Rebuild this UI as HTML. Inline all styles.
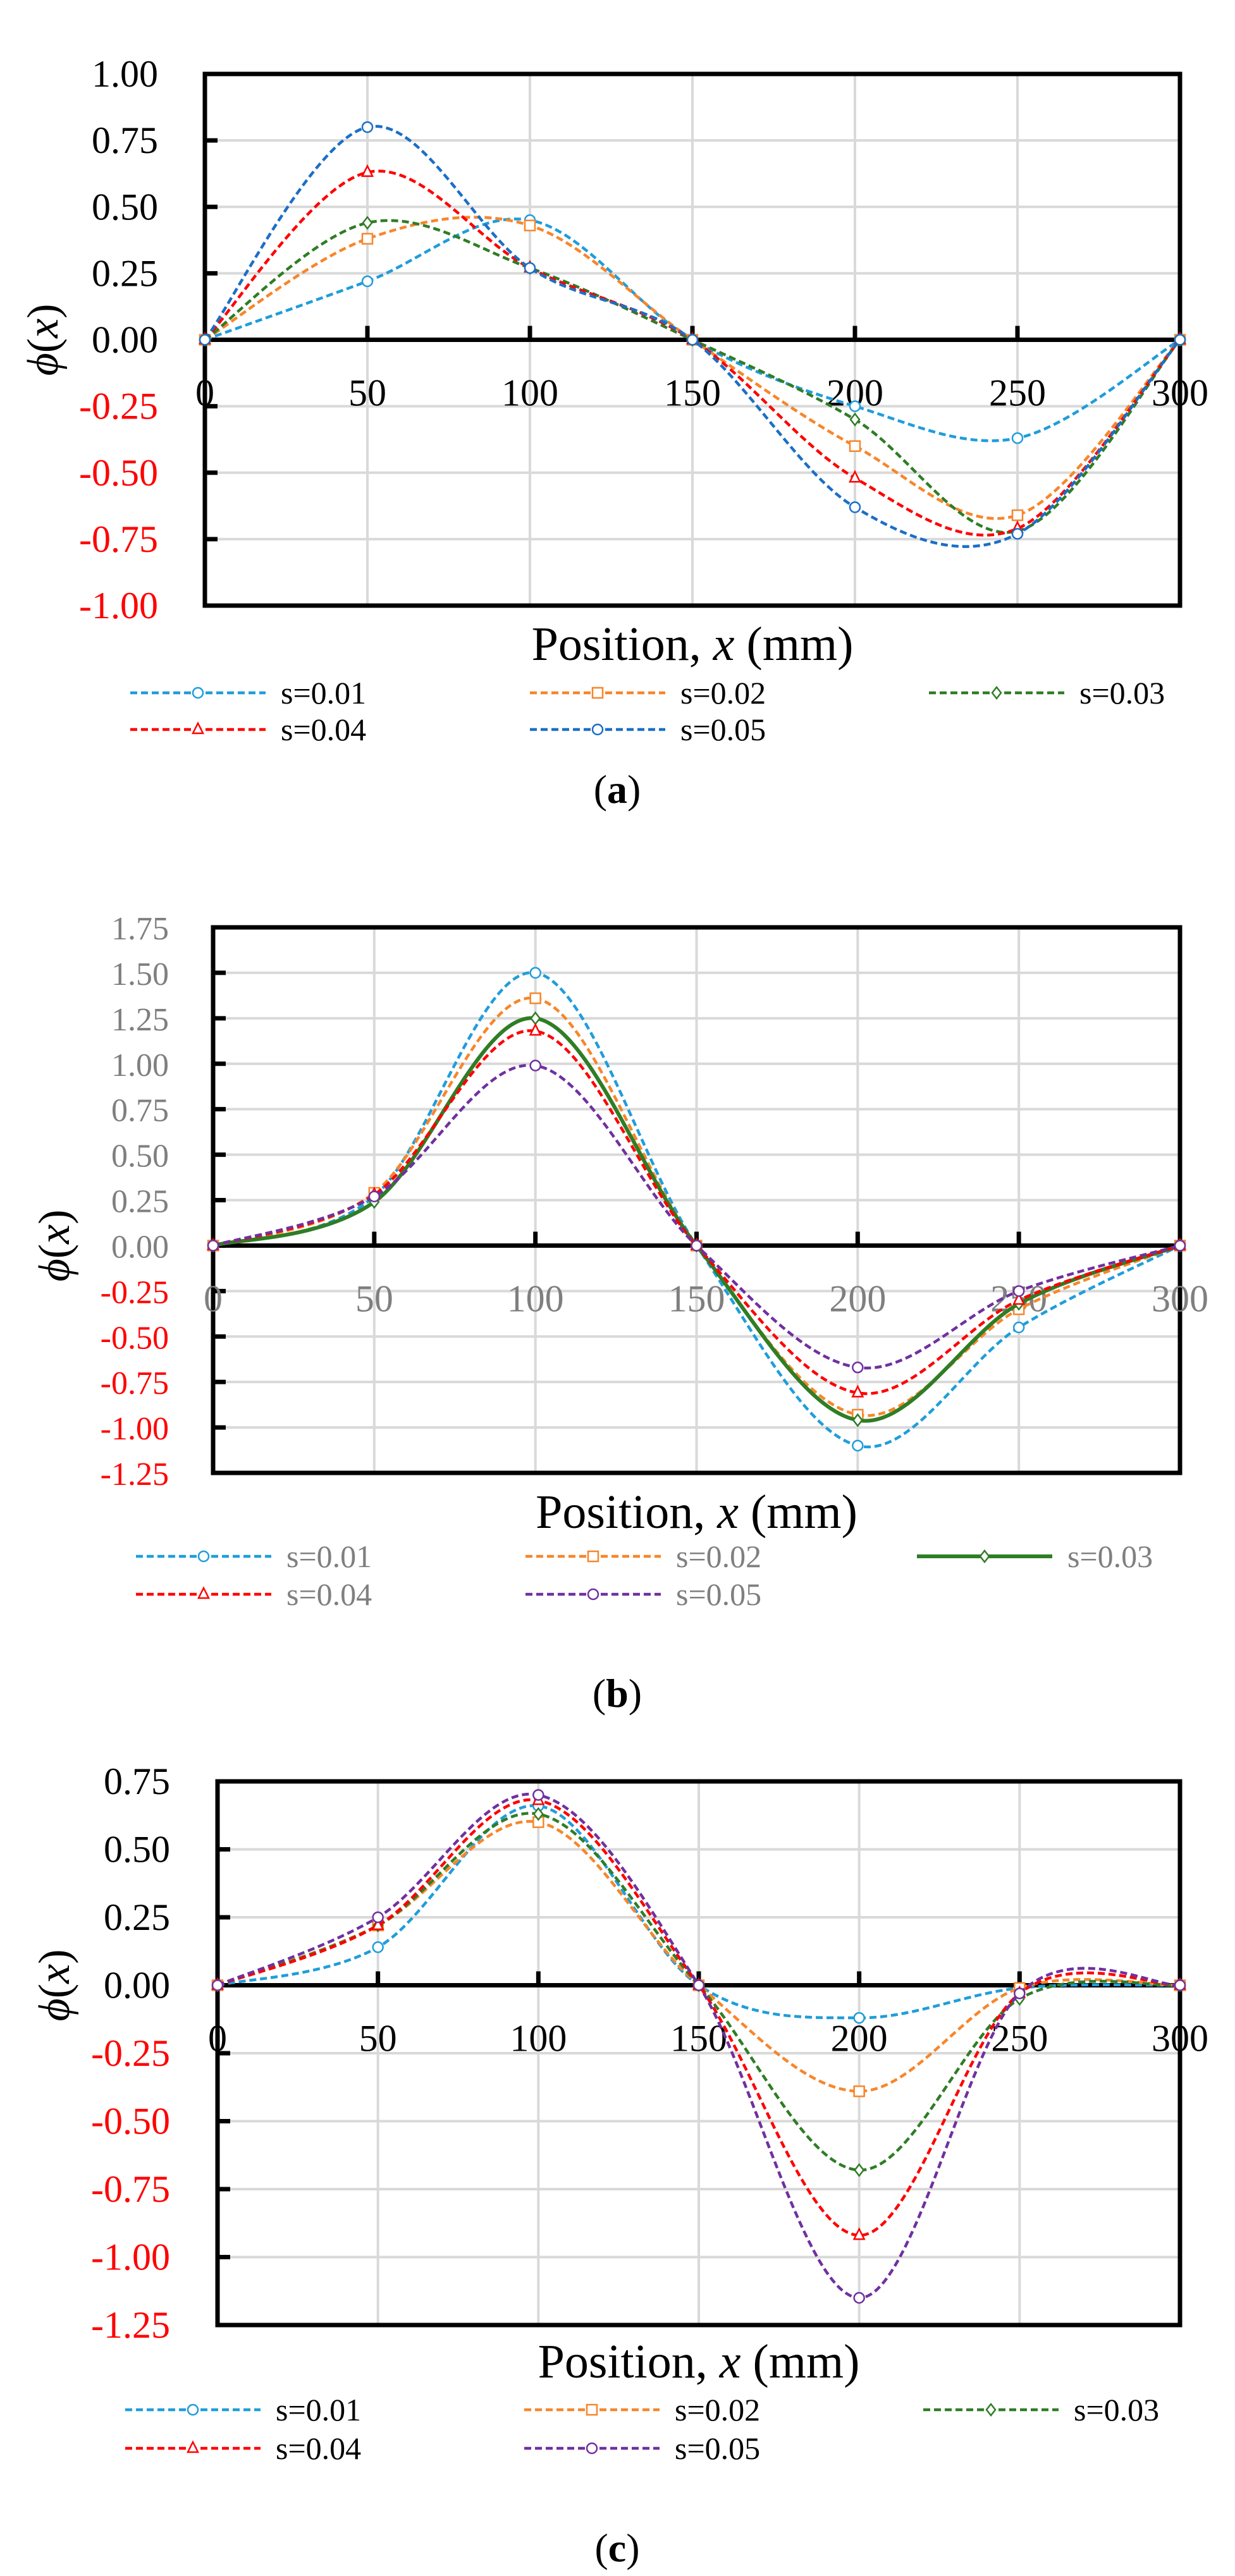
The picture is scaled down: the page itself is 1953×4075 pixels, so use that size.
<!DOCTYPE html>
<html><head><meta charset="utf-8"><style>
html,body{margin:0;padding:0;background:#fff;}
svg{display:block;}
text{font-family:"Liberation Serif",serif;}
</style></head><body>
<svg id="fig" width="1953" height="4075" viewBox="0 0 1953 4075" xmlns="http://www.w3.org/2000/svg"></svg>
<script>
const xCats = [0, 50, 100, 150, 200, 250, 300];
const xTicks = ["0","50","100","150","200","250","300"];
const seriesNames = ["s=0.01","s=0.02","s=0.03","s=0.04","s=0.05"];
// chart (a)
const a_s01 = [0, 0.22, 0.45, 0, -0.25, -0.37, 0];
const a_s02 = [0, 0.38, 0.43, 0, -0.40, -0.66, 0];
const a_s03 = [0, 0.44, 0.27, 0, -0.30, -0.72, 0];
const a_s04 = [0, 0.63, 0.27, 0, -0.52, -0.71, 0];
const a_s05 = [0, 0.80, 0.27, 0, -0.63, -0.73, 0];
const a_yTicks = ["1.00","0.75","0.50","0.25","0.00","-0.25","-0.50","-0.75","-1.00"];
// chart (b)
const b_s01 = [0, 0.27, 1.50, 0, -1.10, -0.45, 0];
const b_s02 = [0, 0.29, 1.36, 0, -0.93, -0.35, 0];
const b_s03 = [0, 0.24, 1.25, 0, -0.96, -0.32, 0];
const b_s04 = [0, 0.28, 1.18, 0, -0.81, -0.30, 0];
const b_s05 = [0, 0.27, 0.99, 0, -0.67, -0.25, 0];
const b_yTicks = ["1.75","1.50","1.25","1.00","0.75","0.50","0.25","0.00","-0.25","-0.50","-0.75","-1.00","-1.25"];
// chart (c)
const c_s01 = [0, 0.14, 0.66, 0, -0.12, -0.01, 0];
const c_s02 = [0, 0.22, 0.60, 0, -0.39, -0.01, 0];
const c_s03 = [0, 0.22, 0.63, 0, -0.68, -0.05, 0];
const c_s04 = [0, 0.22, 0.68, 0, -0.92, -0.03, 0];
const c_s05 = [0, 0.25, 0.70, 0, -1.15, -0.03, 0];
const c_yTicks = ["0.75","0.50","0.25","0.00","-0.25","-0.50","-0.75","-1.00","-1.25"];

const NS = "http://www.w3.org/2000/svg";
const svg = document.getElementById("fig");
function el(tag, attrs, parent){
  const e = document.createElementNS(NS, tag);
  for (const k in attrs) e.setAttribute(k, attrs[k]);
  (parent||svg).appendChild(e);
  return e;
}
const BLUE="#1f9ddb", ORANGE="#f7862a", GREEN="#2f7d25", RED="#ff0000", DBLUE="#1b6fc6", PURPLE="#7030a0";

function markerShape(g, kind, x, y, color){
  let m;
  if (kind==="circle") m = el("circle",{cx:x,cy:y,r:8,fill:"#fff",stroke:color,"stroke-width":2.5},g);
  else if (kind==="square") m = el("rect",{x:x-8,y:y-8,width:16,height:16,fill:"#fff",stroke:color,"stroke-width":2.5},g);
  else if (kind==="diamond") m = el("polygon",{points:`${x},${y-9} ${x+7},${y} ${x},${y+9} ${x-7},${y}`,fill:"#fff",stroke:color,"stroke-width":2.5},g);
  else m = el("polygon",{points:`${x},${y-10} ${x+8},${y+6} ${x-8},${y+6}`,fill:"#fff",stroke:color,"stroke-width":2.5},g);
  
  
  return m;
}

function smoothPath(pts){
  let d = `M${pts[0][0]},${pts[0][1]}`;
  for (let i=0;i<pts.length-1;i++){
    const p0 = pts[Math.max(0,i-1)], p1 = pts[i], p2 = pts[i+1], p3 = pts[Math.min(pts.length-1,i+2)];
    const c1x = p1[0]+(p2[0]-p0[0])/6, c1y = p1[1]+(p2[1]-p0[1])/6;
    const c2x = p2[0]-(p3[0]-p1[0])/6, c2y = p2[1]-(p3[1]-p1[1])/6;
    d += ` C${c1x},${c1y} ${c2x},${c2y} ${p2[0]},${p2[1]}`;
  }
  return d;
}

function drawChart(cfg){
  const g = el("g",{});
  
  
  const L=cfg.left, R=cfg.right, T=cfg.top, B=cfg.bottom;
  const yMax=parseFloat(cfg.yTicks[0]), yMin=parseFloat(cfg.yTicks[cfg.yTicks.length-1]);
  const xs = v => L + (v-0)/(300-0)*(R-L);
  const ys = v => T + (yMax-v)/(yMax-yMin)*(B-T);
  cfg.yTicks.forEach(t=>{
    const y=ys(parseFloat(t));
    const gl=el("line",{x1:L,x2:R,y1:y,y2:y,stroke:"#d9d9d9","stroke-width":4},g);
    
    
  });
  xCats.forEach(v=>{
    const x=xs(v);
    const gl=el("line",{x1:x,x2:x,y1:T,y2:B,stroke:"#d9d9d9","stroke-width":4},g);
    
    
  });
  const box=el("rect",{x:L,y:T,width:R-L,height:B-T,fill:"none",stroke:"#000","stroke-width":7},g);
  
  
  const z=ys(0);
  const za=el("line",{x1:L,x2:R,y1:z,y2:z,stroke:"#000","stroke-width":7},g);
  
  
  xCats.forEach(v=>{
    const x=xs(v);
    const tk=el("line",{x1:x,x2:x,y1:z,y2:z-22,stroke:"#000","stroke-width":7},g);
    
    
  });
  cfg.yTicks.forEach(t=>{
    const y=ys(parseFloat(t));
    const tk=el("line",{x1:L,x2:L+20,y1:y,y2:y,stroke:"#000","stroke-width":7},g);
    
    
    const v=parseFloat(t);
    const attrs={x:cfg.yLabelRight,y:y+(cfg.sansY?19:20),"text-anchor":"end","font-size":cfg.sansY?52:60,fill:v<0?"#ff0000":cfg.posColor};
    if (cfg.sansY) attrs["font-family"]='"Liberation Sans", sans-serif';
    const tx=el("text",attrs,g);
    tx.textContent=t;
    
    
  });
  xCats.forEach((v,i)=>{
    const tx=el("text",{x:xs(v),y:z+104,"text-anchor":"middle","font-size":60,fill:cfg.xColor},g);
    tx.textContent=xTicks[i];
    
    
  });
  const xt=el("text",{x:(L+R)/2,y:cfg.xTitleY,"text-anchor":"middle","font-size":76,fill:"#000"},g);
  xt.innerHTML='Position, <tspan font-style="italic">x</tspan> (mm)';
  
  
  const yt=el("text",{x:0,y:0,"text-anchor":"middle","font-size":70,fill:"#000",transform:`translate(${cfg.yTitleX+22},${z}) rotate(-90)`},g);
  yt.innerHTML='<tspan font-style="italic">ϕ</tspan>(<tspan font-style="italic">x</tspan>)';
  
  
  cfg.series.forEach((s,si)=>{
    const sg=el("g",{},g);
    
    
    const pts=xCats.map((v,i)=>[xs(v),ys(s.data[i])]);
    const p=el("path",{d:smoothPath(pts),fill:"none",stroke:s.color,"stroke-width":s.solid?6:4.5,"stroke-dasharray":s.solid?"none":"11 6"},sg);
    
    
    pts.forEach(q=>markerShape(sg,s.marker,q[0],q[1],s.color));
  });
  cfg.series.forEach((s,si)=>{
    const col=si%3, row=Math.floor(si/3);
    const lx=cfg.legCols[col], ly=cfg.legRows[row];
    const lg=el("g",{},g);
    
    
    el("line",{x1:lx,x2:lx+214,y1:ly,y2:ly,stroke:s.color,"stroke-width":s.solid?6:4.5,"stroke-dasharray":s.solid?"none":"11 6"},lg);
    markerShape(lg,s.marker,lx+107,ly,s.color);
    const t=el("text",{x:lx+238,y:ly+17,"font-size":50,fill:cfg.legColor},lg);
    t.textContent=seriesNames[si];
  });
  const cap=el("text",{x:976,y:cfg.capY,"text-anchor":"middle","font-size":64,fill:"#000"},g);
  cap.innerHTML='(<tspan font-weight="bold">'+cfg.id+'</tspan>)';
  
  
}

drawChart({id:"a",left:324,right:1866,top:117,bottom:958,yTicks:a_yTicks,posColor:"#000",xColor:"#000",legColor:"#000",
  yLabelRight:250,yTitleX:69,xTitleY:1044,legCols:[206,838,1469],legRows:[1096,1154],capY:1270,
  series:[{data:a_s01,color:BLUE,marker:"circle"},{data:a_s02,color:ORANGE,marker:"square"},{data:a_s03,color:GREEN,marker:"diamond"},{data:a_s04,color:RED,marker:"triangle"},{data:a_s05,color:DBLUE,marker:"circle"}]});
drawChart({id:"b",left:337,right:1866,top:1467,bottom:2330,yTicks:b_yTicks,posColor:"#7f7f7f",xColor:"#7f7f7f",legColor:"#7f7f7f",sansY:true,
  yLabelRight:267,yTitleX:87,xTitleY:2417,legCols:[215,831,1450],legRows:[2462,2522],capY:2700,
  series:[{data:b_s01,color:BLUE,marker:"circle"},{data:b_s02,color:ORANGE,marker:"square"},{data:b_s03,color:GREEN,marker:"diamond",solid:true},{data:b_s04,color:RED,marker:"triangle"},{data:b_s05,color:PURPLE,marker:"circle"}]});
drawChart({id:"c",left:344,right:1866,top:2818,bottom:3678,yTicks:c_yTicks,posColor:"#000",xColor:"#000",legColor:"#000",
  yLabelRight:269,yTitleX:87,xTitleY:3761,legCols:[198,829,1460],legRows:[3812,3873],capY:4052,
  series:[{data:c_s01,color:BLUE,marker:"circle"},{data:c_s02,color:ORANGE,marker:"square"},{data:c_s03,color:GREEN,marker:"diamond"},{data:c_s04,color:RED,marker:"triangle"},{data:c_s05,color:PURPLE,marker:"circle"}]});
</script>
</body></html>
